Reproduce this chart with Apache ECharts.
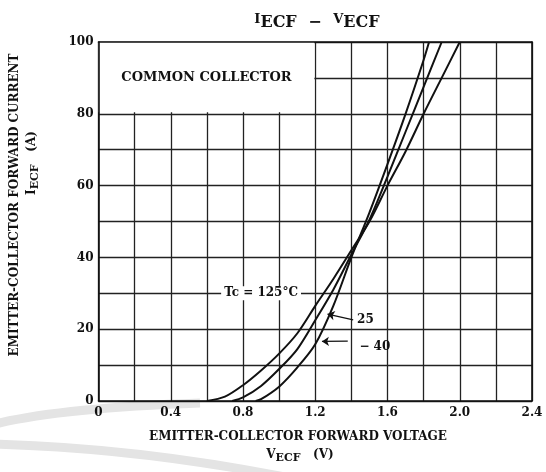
<!DOCTYPE html>
<html>
<head>
<meta charset="utf-8">
<script src="https://cdn.jsdelivr.net/npm/echarts@6/dist/echarts.min.js"></script>
<style>
html,body{margin:0;padding:0;background:#fff;}
#chart{width:546px;height:472px;}
</style>
</head>
<body>
<div id="chart"></div>
<script>
// ---- data ----
const volt125 = [0.6, 0.7, 0.8, 0.9, 1.0, 1.1, 1.2, 1.3, 1.4, 1.5, 1.6, 1.7, 1.8, 1.9, 2.0];
const amp125  = [0, 1.2, 4.4, 8.5, 13.2, 18.8, 26.5, 34, 42, 50, 60, 69.5, 80, 90, 100];
const volt25  = [0.74, 0.8, 0.9, 1.0, 1.1, 1.2, 1.3, 1.4, 1.5, 1.6, 1.7, 1.8, 1.9];
const amp25   = [0, 1.0, 4.2, 8.9, 14.4, 22.5, 31, 40.8, 50.5, 62.5, 75, 87.5, 100];
const voltM40 = [0.87, 0.9, 1.0, 1.1, 1.2, 1.3, 1.4, 1.5, 1.6, 1.7, 1.8, 1.83];
const ampM40  = [0, 0.5, 4.0, 9.3, 15.8, 26.5, 40, 52.5, 66, 80, 95, 100];
const xTickLabels = ['0', '0.4', '0.8', '1.2', '1.6', '2.0', '2.4'];
const yTickLabels = ['0', '20', '40', '60', '80', '100'];

const zip = (xs, ys) => xs.map((x, i) => [x, ys[i]]);
const SERIF = '"DejaVu Serif", "Liberation Serif", serif';

const chart = echarts.init(document.getElementById('chart'), null, {renderer: 'canvas'});

const lineStyle = {color: '#111', width: 2};
const annLabel = {fontFamily: SERIF, fontSize: 12, color: '#111', fontWeight: 'bold'};

const option = {
  backgroundColor: '#fff',
  animation: false,
  title: {
    text: '{a|I}{s|ECF}{m| − }{a|V}{s|ECF}',
    left: 312, top: 8, textAlign: 'center',
    textStyle: {
      rich: {
        a: {fontFamily: SERIF, fontSize: 13, color: '#111', padding: [0, 0, 6, 0]},
        m: {fontFamily: SERIF, fontSize: 16, color: '#111', padding: [0, 6, 0, 6]},
        s: {fontFamily: SERIF, fontSize: 16, color: '#111'}
      }
    }
  },
  grid: {left: 98.5, right: 14, top: 42, bottom: 71, show: false},
  xAxis: [
    {
      type: 'value', min: 0, max: 2.4, interval: 0.2, position: 'bottom', z: 0,
      axisLine: {show: true, onZero: false, lineStyle: {color: '#111', width: 1.6}},
      axisTick: {show: false},
      splitLine: {show: true, lineStyle: {color: '#222', width: 1.3}},
      axisLabel: {
        margin: 6, fontFamily: SERIF, fontSize: 12, fontWeight: 'bold', color: '#111',
        formatter: v => { const k = Math.round(v * 10); return k % 4 === 0 ? xTickLabels[k / 4] : ''; }
      }
    },
    {
      type: 'value', min: 0, max: 2.4, interval: 0.2, position: 'top', z: 10,
      axisLine: {show: true, onZero: false, lineStyle: {color: '#111', width: 1.6}},
      axisTick: {show: false}, axisLabel: {show: false}, splitLine: {show: false}
    }
  ],
  yAxis: [
    {
      type: 'value', min: 0, max: 100, interval: 10, position: 'left', z: 10,
      axisLine: {show: true, onZero: false, lineStyle: {color: '#111', width: 1.6}},
      axisTick: {show: false},
      splitLine: {show: false},
      axisLabel: {
        margin: 5, fontFamily: SERIF, fontSize: 12, fontWeight: 'bold', color: '#111',
        formatter: v => { const k = Math.round(v); return k % 20 === 0 ? yTickLabels[k / 20] : ''; }
      }
    },
    {
      type: 'value', min: 0, max: 100, interval: 10, position: 'right', z: 0,
      axisLine: {show: true, onZero: false, lineStyle: {color: '#111', width: 1.6}},
      axisTick: {show: false}, axisLabel: {show: false},
      splitLine: {show: true, lineStyle: {color: '#222', width: 1.3}}
    }
  ],
  series: [
    {
      name: '125', type: 'line', xAxisIndex: 0, yAxisIndex: 0,
      data: zip(volt125, amp125), smooth: 0.3,
      showSymbol: false, symbol: 'none', lineStyle: lineStyle, clip: true, z: 3,
      markArea: {
        silent: true,
        itemStyle: {color: '#fff', borderWidth: 0},
        label: {show: true, position: 'inside', formatter: 'COMMON COLLECTOR',
                fontFamily: SERIF, fontSize: 13, fontWeight: 'bold', color: '#111'},
        data: [[{coord: [0, 80.4]}, {coord: [1.195, 100]}]]
      },
      markPoint: {
        silent: true, symbol: 'rect', symbolSize: 0,
        label: Object.assign({show: true, position: 'inside', backgroundColor: '#fff', padding: [1, 3]}, annLabel),
        data: [{coord: [0.9, 30], value: 'Tc = 125°C', label: {formatter: 'Tc = 125°C'}}]
      }
    },
    {
      name: '25', type: 'line', xAxisIndex: 0, yAxisIndex: 0,
      data: zip(volt25, amp25), smooth: 0.3,
      showSymbol: false, symbol: 'none', lineStyle: lineStyle, clip: true, z: 3,
      markPoint: {
        silent: true, symbol: 'rect', symbolSize: 0,
        label: Object.assign({show: true, position: 'inside'}, annLabel),
        data: [{coord: [1.478, 22.5], value: '25', label: {formatter: '25'}}]
      },
      markLine: {
        silent: true, symbolSize: 7,
        lineStyle: {color: '#111', width: 1.2, type: 'solid'},
        label: {show: false},
        data: [[{coord: [1.41, 22.6], symbol: 'none'}, {coord: [1.268, 24.2], symbol: 'arrow'}]]
      }
    },
    {
      name: '-40', type: 'line', xAxisIndex: 0, yAxisIndex: 0,
      data: zip(voltM40, ampM40), smooth: 0.3,
      showSymbol: false, symbol: 'none', lineStyle: lineStyle, clip: true, z: 3,
      markPoint: {
        silent: true, symbol: 'rect', symbolSize: 0,
        label: Object.assign({show: true, position: 'inside'}, annLabel),
        data: [{coord: [1.53, 15.2], value: '−40', label: {formatter: '− 40'}}]
      },
      markLine: {
        silent: true, symbolSize: 7,
        lineStyle: {color: '#111', width: 1.2, type: 'solid'},
        label: {show: false},
        data: [[{coord: [1.38, 16.7], symbol: 'none'}, {coord: [1.237, 16.6], symbol: 'arrow'}]]
      }
    }
  ],
  graphic: [
    {
      type: 'bezierCurve', z: -10, silent: true,
      shape: {x1: -5, y1: 424, cpx1: 60, cpy1: 408, x2: 200, y2: 403},
      style: {stroke: '#e4e4e4', lineWidth: 9, fill: null}
    },
    {
      type: 'bezierCurve', z: -10, silent: true,
      shape: {x1: -5, y1: 444, cpx1: 140, cpy1: 448, x2: 290, y2: 478},
      style: {stroke: '#e4e4e4', lineWidth: 9, fill: null}
    },
    {
      type: 'text', x: 15, y: 205, rotation: Math.PI / 2,
      style: {text: 'EMITTER-COLLECTOR FORWARD CURRENT', fontFamily: SERIF, fontSize: 12, fontWeight: 'bold',
              fill: '#111', align: 'center', verticalAlign: 'middle'}
    },
    {
      type: 'text', x: 32, y: 163, rotation: Math.PI / 2,
      style: {text: '{a|I}{s|ECF}{a|   (A)}', align: 'center', verticalAlign: 'middle',
              rich: {
                a: {fontFamily: SERIF, fontSize: 12, fontWeight: 'bold', fill: '#111'},
                s: {fontFamily: SERIF, fontSize: 11, fontWeight: 'bold', fill: '#111', padding: [6, 0, 0, 0]}
              }}
    },
    {
      type: 'text', x: 298, y: 437,
      style: {text: 'EMITTER-COLLECTOR FORWARD VOLTAGE', fontFamily: SERIF, fontSize: 12, fontWeight: 'bold',
              fill: '#111', align: 'center', verticalAlign: 'middle'}
    },
    {
      type: 'text', x: 300, y: 455,
      style: {text: '{a|V}{s|ECF}{a|   (V)}', align: 'center', verticalAlign: 'middle',
              rich: {
                a: {fontFamily: SERIF, fontSize: 12, fontWeight: 'bold', fill: '#111'},
                s: {fontFamily: SERIF, fontSize: 11, fontWeight: 'bold', fill: '#111', padding: [6, 0, 0, 0]}
              }}
    }
  ]
};
chart.setOption(option);
</script>
</body>
</html>
